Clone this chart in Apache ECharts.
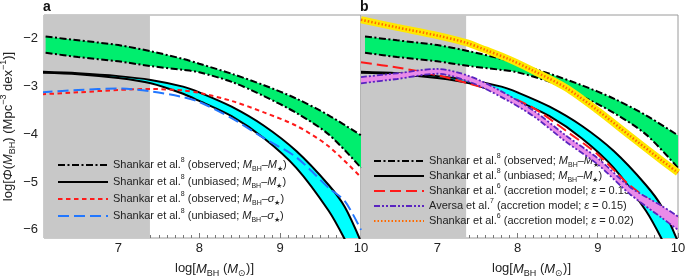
<!DOCTYPE html>
<html>
<head>
<meta charset="utf-8">
<script src="https://cdn.jsdelivr.net/npm/echarts@6/dist/echarts.min.js"></script>
<style>
  html, body { margin: 0; padding: 0; background: #fff; }
  #chart { width: 685px; height: 276px; }
</style>
</head>
<body>
<div id="chart"></div>
<script>
// ---- data (log M_BH vs log phi) ----
const xGreen = [6.1, 6.5, 7.0, 7.4, 7.8, 8.0, 8.4, 8.8, 9.2, 9.6, 10.0]
const greenHi = [-1.95, -2.03, -2.13, -2.26, -2.42, -2.52, -2.73, -2.97, -3.25, -3.6, -4.02]
const greenLo = [-2.29, -2.38, -2.47, -2.57, -2.65, -2.70, -2.9, -3.2, -3.55, -4.0, -4.7]

const xCyan = [6.05, 6.5, 7.0, 7.4, 7.8, 8.0, 8.4, 8.8, 9.2, 9.6, 9.8, 10.0]
const cyanHi = [-2.69, -2.72, -2.78, -2.86, -3.0, -3.12, -3.42, -3.82, -4.35, -5.06, -5.52, -6.25]
const cyanLo = [-2.71, -2.74, -2.82, -2.93, -3.15, -3.3, -3.62, -4.08, -4.7, -5.6, -6.2, -6.9]

const xSigObs = [6.05, 6.5, 7.0, 7.4, 7.8, 8.0, 8.4, 8.8, 9.2, 9.6, 10.0]
const sigObs = [-3.16, -3.12, -3.07, -3.05, -3.08, -3.13, -3.3, -3.54, -3.82, -4.25, -4.9]

const xSigUnb = [6.05, 6.5, 7.0, 7.4, 7.8, 8.0, 8.4, 8.8, 9.2, 9.6, 9.8, 10.0]
const sigUnb = [-3.12, -3.07, -3.04, -3.1, -3.22, -3.32, -3.66, -4.08, -4.48, -5.12, -5.4, -6.0]

const xEps02 = [6.05, 6.5, 7.0, 7.36, 7.6, 7.9, 8.2, 8.6, 9.0, 9.4, 9.8, 10.0]
const acc02 = [-1.6, -1.76, -1.93, -2.08, -2.23, -2.43, -2.67, -3.02, -3.5, -4.03, -4.55, -4.8]

const xAcc = [6.05, 6.5, 7.0, 7.4, 7.8, 8.2, 8.6, 9.0, 9.4, 9.8, 10.0]
const acc15 = [-2.49, -2.6, -2.76, -2.94, -3.14, -3.45, -3.92, -4.42, -5.07, -5.55, -5.75]
const aversaHi = [-2.8, -2.72, -2.63, -2.78, -3.1, -3.5, -4.02, -4.5, -5.1, -5.5, -5.72]
const aversaLo = [-2.93, -2.84, -2.73, -2.9, -3.22, -3.62, -4.15, -4.63, -5.25, -5.75, -6.0]

const xLabels = [7, 8, 9, 10]
const yLabels = [-6, -5, -4, -3, -2]
const shadeEnd = [7.39, 7.36]

const FONT = 'Liberation Sans, Arial, sans-serif'
const xMin = [6.08, 6.05]
const yMin = -6.17
const yMax = -1.5

function pts(xs, ys) {
  return xs.map((x, i) => [x, ys[i]])
}

// y first, so the stack is taken on the y dimension
function ptsYX(xs, ys) {
  return xs.map((x, i) => [ys[i], x])
}

function steps(a, b, s) {
  const out = []
  for (let v = a; v <= b + 1e-9; v += s) out.push(Math.round(v * 10) / 10)
  return out
}

const minorX = steps(6.1, 10, 0.1)
const minorY = steps(-6.1, -1.5, 0.1)

function line(name, xs, ys, color, width, type, p, z) {
  return {
    name, type: 'line', xAxisIndex: p * 2, yAxisIndex: p * 2,
    data: pts(xs, ys), symbol: 'none', smooth: 0.3,
    lineStyle: { color, width, type, cap: 'butt' }, itemStyle: { color },
    z, silent: true, animation: false
  }
}

function band(id, xs, lo, hi, color, p, z) {
  const common = {
    type: 'line', stack: id, stackStrategy: 'all', symbol: 'none', smooth: 0.3,
    encode: { x: 1, y: 0 },
    xAxisIndex: p * 2, yAxisIndex: p * 2, z, silent: true, animation: false
  }
  return [
    Object.assign({ name: id + '_base', data: ptsYX(xs, lo), lineStyle: { width: 0, opacity: 0 } }, common),
    Object.assign({
      name: id + '_fill', data: ptsYX(xs, hi.map((v, i) => v - lo[i])),
      lineStyle: { width: 0, opacity: 0 }, areaStyle: { color, opacity: 1 }
    }, common)
  ]
}

function shade(p) {
  return {
    name: 'shade' + p, type: 'line', xAxisIndex: p * 2, yAxisIndex: p * 2, data: [], z: 0,
    markArea: {
      silent: true, itemStyle: { color: '#c8c8c8' },
      data: [[{ xAxis: xMin[p] }, { xAxis: shadeEnd[p] }]]
    }
  }
}

const DASHDOT = [7, 2.5, 2, 2.5]
const DDD = [6, 2, 2, 2, 2, 2]

const textRich = {
  i: { fontFamily: FONT, fontSize: 11, fontStyle: 'italic', lineHeight: 16, color: '#222' },
  sup: { fontFamily: FONT, fontSize: 7, lineHeight: 8, verticalAlign: 'top', color: '#222' },
  sub: { fontFamily: FONT, fontSize: 7, lineHeight: 7, verticalAlign: 'bottom', color: '#222' }
}

const legendText = {
  obsMs: 'Shankar et al.{sup|8} (observed; {i|M}{sub|BH}–{i|M}{sub|★})',
  unbMs: 'Shankar et al.{sup|8} (unbiased; {i|M}{sub|BH}–{i|M}{sub|★})',
  obsSig: 'Shankar et al.{sup|8} (observed; {i|M}{sub|BH}–{i|σ}{sub|★})',
  unbSig: 'Shankar et al.{sup|8} (unbiased; {i|M}{sub|BH}–{i|σ}{sub|★})',
  obsMs2: 'Shankar et al.{sup|8} (observed; {i|M}{sub|BH}–{i|M}{sub|★})',
  unbMs2: 'Shankar et al.{sup|8} (unbiased; {i|M}{sub|BH}–{i|M}{sub|★})',
  acc15: 'Shankar et al.{sup|6} (accretion model; {i|ε} = 0.15)',
  aversa: 'Aversa et al.{sup|7} (accretion model; {i|ε} = 0.15)',
  acc02: 'Shankar et al.{sup|6} (accretion model; {i|ε} = 0.02)'
}

const nameRich = {
  i: { fontFamily: FONT, fontSize: 13, fontStyle: 'italic', lineHeight: 18, color: '#222' },
  sub: { fontFamily: FONT, fontSize: 9, lineHeight: 8, verticalAlign: 'bottom', color: '#222' },
  sup: { fontFamily: FONT, fontSize: 9, lineHeight: 10, verticalAlign: 'top', color: '#222' }
}

function fmtTick(v) {
  return (v < 0 ? '\u2212' : '') + Math.abs(v)
}

const grids = [
  { left: 44, right: 324, top: 15, bottom: 38 },
  { left: 361, right: 7, top: 15, bottom: 38 }
].map(g => Object.assign({
  show: true, borderColor: '#9a9a9a', borderWidth: 1, backgroundColor: 'transparent',
  containLabel: false, outerBoundsMode: 'none'
}, g))

const xAxes = []
const yAxes = []
for (let p = 0; p < 2; p++) {
  xAxes.push({
    gridIndex: p, type: 'value', min: xMin[p], max: 10, position: 'bottom',
    axisLine: { show: false }, splitLine: { show: false },
    axisTick: { inside: true, length: 5, customValues: xLabels, lineStyle: { color: '#777' } },
    axisLabel: { customValues: xLabels, fontFamily: FONT, fontSize: 13, color: '#222', margin: 4 },
    name: 'log[{i|M}{sub|BH} ({i|M}{sub|⊙})]', nameLocation: 'middle', nameGap: 19,
    nameTextStyle: { fontFamily: FONT, fontSize: 13, color: '#222', lineHeight: 18, padding: [0, 0, 0, 24], rich: nameRich }
  })
  xAxes.push({
    gridIndex: p, type: 'value', min: xMin[p], max: 10, position: 'bottom',
    axisLine: { show: false }, splitLine: { show: false }, axisLabel: { show: false },
    axisTick: { inside: true, length: 3, customValues: minorX, lineStyle: { color: '#777' } }
  })
  yAxes.push({
    gridIndex: p, type: 'value', min: yMin, max: yMax, position: 'left',
    axisLine: { show: false }, splitLine: { show: false },
    axisTick: { inside: true, length: 5, customValues: yLabels, lineStyle: { color: '#777' } },
    axisLabel: {
      show: p === 0, customValues: yLabels, fontFamily: FONT, fontSize: 13, color: '#222', margin: 6,
      formatter: fmtTick
    },
    name: p === 0 ? 'log[{i|Φ}({i|M}{sub|BH}) (Mpc{sup|−3} dex{sup|−1})]' : '',
    nameLocation: 'middle', nameGap: 27,
    nameTextStyle: { fontFamily: FONT, fontSize: 13, color: '#222', lineHeight: 18, rich: nameRich }
  })
  yAxes.push({
    gridIndex: p, type: 'value', min: yMin, max: yMax, position: 'left',
    axisLine: { show: false }, splitLine: { show: false }, axisLabel: { show: false },
    axisTick: { inside: true, length: 3, customValues: minorY, lineStyle: { color: '#777' } }
  })
}

const GREEN = '#00ee6e'
const CYAN = '#00ffff'

const series = [
  shade(0),
  ...band('ga', xGreen, greenLo, greenHi, GREEN, 0, 2),
  ...band('ca', xCyan, cyanLo, cyanHi, CYAN, 0, 2),
  line('obsMs', xGreen, greenHi, '#000', 2, DASHDOT, 0, 3),
  line('obsMs', xGreen, greenLo, '#000', 2, DASHDOT, 0, 3),
  line('unbMs', xCyan, cyanHi, '#000', 2, 'solid', 0, 3),
  line('unbMs', xCyan, cyanLo, '#000', 2, 'solid', 0, 3),
  line('obsSig', xSigObs, sigObs, '#ff1a1a', 2, [4.5, 3.5], 0, 4),
  line('unbSig', xSigUnb, sigUnb, '#2277ff', 2, [11, 5], 0, 4),

  shade(1),
  ...band('gb', xGreen, greenLo, greenHi, GREEN, 1, 2),
  ...band('cb', xCyan, cyanLo, cyanHi, CYAN, 1, 2),
  line('obsMs2', xGreen, greenHi, '#000', 2, DASHDOT, 1, 3),
  line('obsMs2', xGreen, greenLo, '#000', 2, DASHDOT, 1, 3),
  line('unbMs2', xCyan, cyanHi, '#000', 2, 'solid', 1, 3),
  line('unbMs2', xCyan, cyanLo, '#000', 2, 'solid', 1, 3),
  line('acc15', xAcc, acc15, '#ff1a1a', 2, [11, 5], 1, 4),
  ...band('av', xAcc, aversaLo, aversaHi, '#e98be9', 1, 5),
  line('aversa', xAcc, aversaHi, '#5a24c0', 1.8, DDD, 1, 6),
  line('aversa', xAcc, aversaLo, '#5a24c0', 1.8, DDD, 1, 6),
  line('acc02base', xEps02, acc02, '#ffe800', 7, 'solid', 1, 7),
  line('acc02', xEps02, acc02, '#ff6a00', 2.5, [1.5, 2], 1, 8)
]

const legendBase = {
  orient: 'vertical', itemWidth: 50, itemHeight: 10, padding: 0, selectedMode: false,
  itemStyle: { color: 'rgba(0,0,0,0)', borderWidth: 0, opacity: 0 },
  formatter: n => legendText[n],
  textStyle: { fontFamily: FONT, fontSize: 11, lineHeight: 16, color: '#222', rich: textRich }
}

const chart = echarts.init(document.getElementById('chart'), null, { renderer: 'canvas' })
chart.setOption({
  animation: false,
  backgroundColor: '#fff',
  title: [
    { text: 'a', left: 43, top: 0, padding: 0, textStyle: { fontFamily: FONT, fontSize: 14, fontWeight: 'bold', color: '#111' } },
    { text: 'b', left: 360, top: 0, padding: 0, textStyle: { fontFamily: FONT, fontSize: 14, fontWeight: 'bold', color: '#111' } }
  ],
  grid: grids,
  xAxis: xAxes,
  yAxis: yAxes,
  legend: [
    Object.assign({ left: 57, top: 157, itemGap: 1, data: ['obsMs', 'unbMs', 'obsSig', 'unbSig'] }, legendBase),
    Object.assign({ left: 373, top: 153, itemGap: -1, data: ['obsMs2', 'unbMs2', 'acc15', 'aversa', 'acc02'] }, legendBase)
  ],
  series
})
</script>
</body>
</html>
